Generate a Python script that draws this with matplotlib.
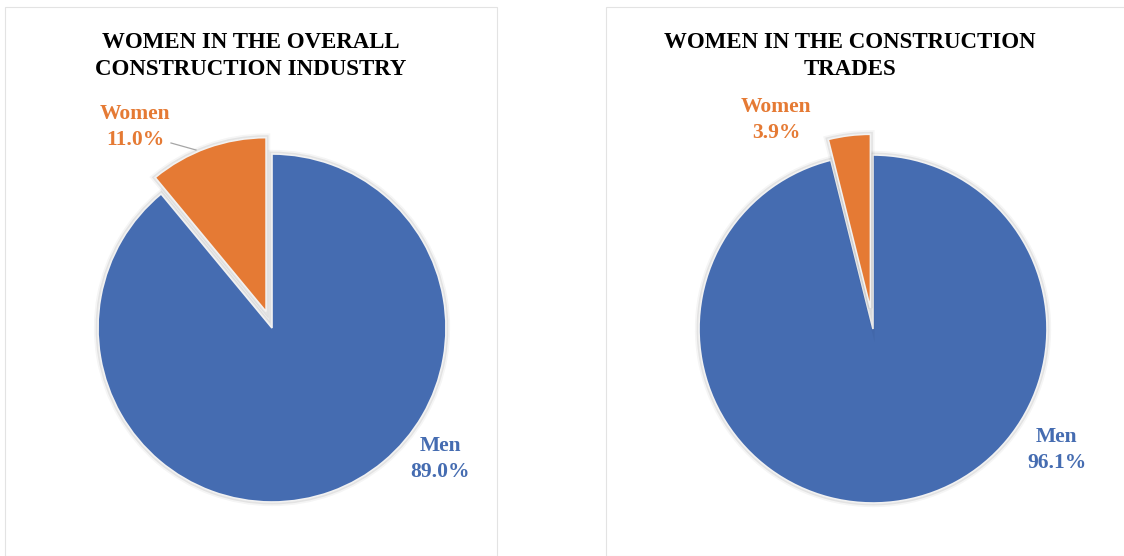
import matplotlib.pyplot as plt
import matplotlib.patheffects as pe
from matplotlib.patches import Rectangle

# data
labels = ["Men", "Women"]
overall_share = [89.0, 11.0]
trades_share = [96.1, 3.9]
titles = ["WOMEN IN THE OVERALL\nCONSTRUCTION INDUSTRY",
          "WOMEN IN THE CONSTRUCTION\nTRADES"]

BLUE = "#456CB1"
ORANGE = "#E57A34"
W, H = 1124, 556
R = 174  # pie radius in px

plt.rcParams["font.family"] = ["Liberation Serif", "DejaVu Serif"]

fig = plt.figure(figsize=(W / 100, H / 100), dpi=100)

# panel frames
for x0, x1 in [(5, 497), (606, 1130)]:
    fig.patches.append(Rectangle((x0 / W, 0), (x1 - x0) / W, (H - 7) / H,
                                 transform=fig.transFigure, fill=False,
                                 edgecolor="#e3e3e3", linewidth=0.8))


def draw_pie(cx, cy, shares, explode, title, tx, women_pos, men_pos, leader=None):
    half = 1.3 * R
    ax = fig.add_axes([(cx - half) / W, (H - cy - half) / H, 2 * half / W, 2 * half / H])
    wedges, _ = ax.pie(shares, colors=[BLUE, ORANGE], startangle=90, counterclock=False,
                       explode=[0, explode], radius=1,
                       wedgeprops=dict(edgecolor="#f2f2f2", linewidth=1.2))
    for w in wedges:
        w.set_path_effects([pe.Stroke(linewidth=6, foreground=(0, 0, 0, 0.04)),
                            pe.Stroke(linewidth=3.5, foreground=(0, 0, 0, 0.07)),
                            pe.Normal()])
    ax.set_xlim(-1.3, 1.3)
    ax.set_ylim(-1.3, 1.3)
    ax.set_aspect("equal")
    ax.axis("off")

    def to_data(px, py):
        return (px - cx) / R, (cy - py) / R

    ax.text(*to_data(*women_pos), f"{labels[1]}\n{shares[1]:.1f}%", color=ORANGE,
            fontsize=15.5, fontweight="bold", ha="center", va="center",
            linespacing=1.4, clip_on=False)
    ax.text(*to_data(*men_pos), f"{labels[0]}\n{shares[0]:.1f}%", color=BLUE,
            fontsize=15.5, fontweight="bold", ha="center", va="center",
            linespacing=1.4, clip_on=False)
    if leader is not None:
        (x0, y0), (x1, y1) = leader
        a, b = to_data(x0, y0)
        c, d = to_data(x1, y1)
        ax.plot([a, c], [b, d], color="#a6a6a6", linewidth=0.9, clip_on=False)

    fig.text(tx / W, 1 - 56 / H, title, ha="center", va="center",
             fontsize=16.5, fontweight="bold", linespacing=1.4)


draw_pie(272, 328, overall_share, 0.1, titles[0], 251,
         women_pos=(135, 127), men_pos=(440, 459),
         leader=((171, 143), (196, 150)))
draw_pie(873, 329, trades_share, 0.12, titles[1], 850,
         women_pos=(776, 120), men_pos=(1057, 450))

fig.savefig("out.png", dpi=100)
